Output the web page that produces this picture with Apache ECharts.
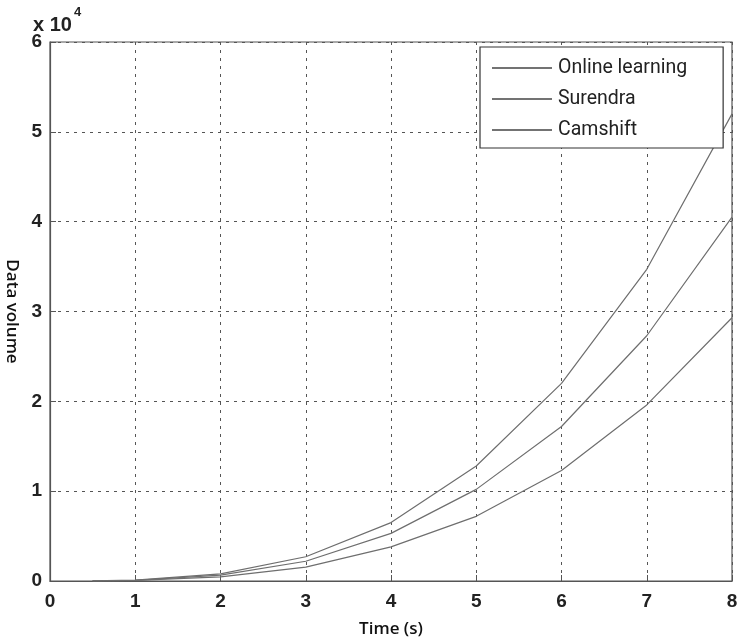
<!DOCTYPE html>
<html>
<head>
<meta charset="utf-8">
<script src="https://cdn.jsdelivr.net/npm/echarts@6/dist/echarts.min.js"></script>
<style>html,body{margin:0;padding:0;background:#fff}#c{width:738px;height:638px}</style>
</head>
<body>
<div id="c"></div>
<script>
const times = [0.5, 1, 2, 3, 4, 5, 6, 7, 8];
const onlineLearning = [15, 100, 800, 2700, 6500, 12800, 22000, 34700, 52000];
const surendra = [12, 80, 650, 2200, 5300, 10200, 17200, 27300, 40500];
const camshift = [8, 60, 450, 1550, 3800, 7200, 12300, 19600, 29300];
const seriesNames = ['Online learning', 'Surendra', 'Camshift'];
const xTicks = [0, 1, 2, 3, 4, 5, 6, 7, 8];
const yTicks = [0, 1, 2, 3, 4, 5, 6];

const pair = (ys) => times.map((t, i) => [t, ys[i]]);
const lineColor = '#6e6e6e';
const mk = (name, ys) => ({
  name, type: 'line', data: pair(ys), symbol: 'none',
  lineStyle: { color: lineColor, width: 1.2 }, itemStyle: { color: lineColor },
  smooth: false, z: 3
});

const chart = echarts.init(document.getElementById('c'));
chart.setOption({
  animation: false,
  backgroundColor: '#fff',
  grid: { left: 50, right: 6, top: 42, bottom: 57, show: true, borderColor: '#555', borderWidth: 1.2,
    containLabel: false, outerBoundsMode: 'none' },
  title: {
    text: '{a|x 10}{b|4}', left: 28, top: 1,
    textStyle: { rich: {
      a: { fontFamily: 'Liberation Sans', fontWeight: 'bold', fontSize: 20, color: '#222', verticalAlign: 'bottom', padding: [9, 0, 0, 0] },
      b: { fontFamily: 'Liberation Sans', fontWeight: 'bold', fontSize: 13, color: '#222', verticalAlign: 'top', padding: [0, 0, 9, 2] }
    } }
  },
  legend: {
    data: seriesNames, orient: 'vertical', left: 480, top: 47,
    icon: 'rect', itemWidth: 60, itemHeight: 1.6, itemGap: 9,
    backgroundColor: '#fff', borderColor: '#333', borderWidth: 1.2, borderRadius: 0,
    padding: [10, 36, 7, 12],
    textStyle: { fontFamily: 'Roboto', fontSize: 19.5, color: '#222', padding: [0, 0, 0, 1], lineHeight: 22 },
    itemStyle: { color: '#444' },
    selectedMode: false
  },
  xAxis: {
    type: 'value', min: 0, max: 8, interval: 1,
    name: 'Time (s)', nameLocation: 'middle', nameGap: 40,
    nameTextStyle: { fontFamily: 'Open Sans', fontSize: 17, fontWeight: 600, color: '#111' },
    axisLine: { show: true, lineStyle: { color: '#555', width: 1.2 } },
    axisTick: { show: true, inside: true, length: 6, lineStyle: { color: '#555' } },
    axisLabel: { fontFamily: 'Liberation Sans', fontWeight: 'bold', fontSize: 19, color: '#222', margin: 11,
      formatter: v => xTicks.includes(v) ? String(v) : '' },
    splitLine: { show: true, lineStyle: { color: '#555', type: [3, 5], width: 1 } }
  },
  yAxis: {
    type: 'value', min: 0, max: 60000, interval: 10000,
    name: 'Data volume', nameLocation: 'middle', nameGap: 29, nameRotate: -90,
    nameTextStyle: { fontFamily: 'Open Sans', fontSize: 17, fontWeight: 600, color: '#111' },
    axisLine: { show: true, lineStyle: { color: '#555', width: 1.2 } },
    axisTick: { show: true, inside: true, length: 6, lineStyle: { color: '#555' } },
    axisLabel: { fontFamily: 'Liberation Sans', fontWeight: 'bold', fontSize: 19, color: '#222', margin: 8,
      formatter: v => { const k = v / 10000; return yTicks.includes(k) ? String(k) : ''; } },
    splitLine: { show: true, lineStyle: { color: '#555', type: [3, 5], width: 1 } }
  },
  series: [
    mk(seriesNames[0], onlineLearning),
    mk(seriesNames[1], surendra),
    mk(seriesNames[2], camshift)
  ]
});
</script>
</body>
</html>
